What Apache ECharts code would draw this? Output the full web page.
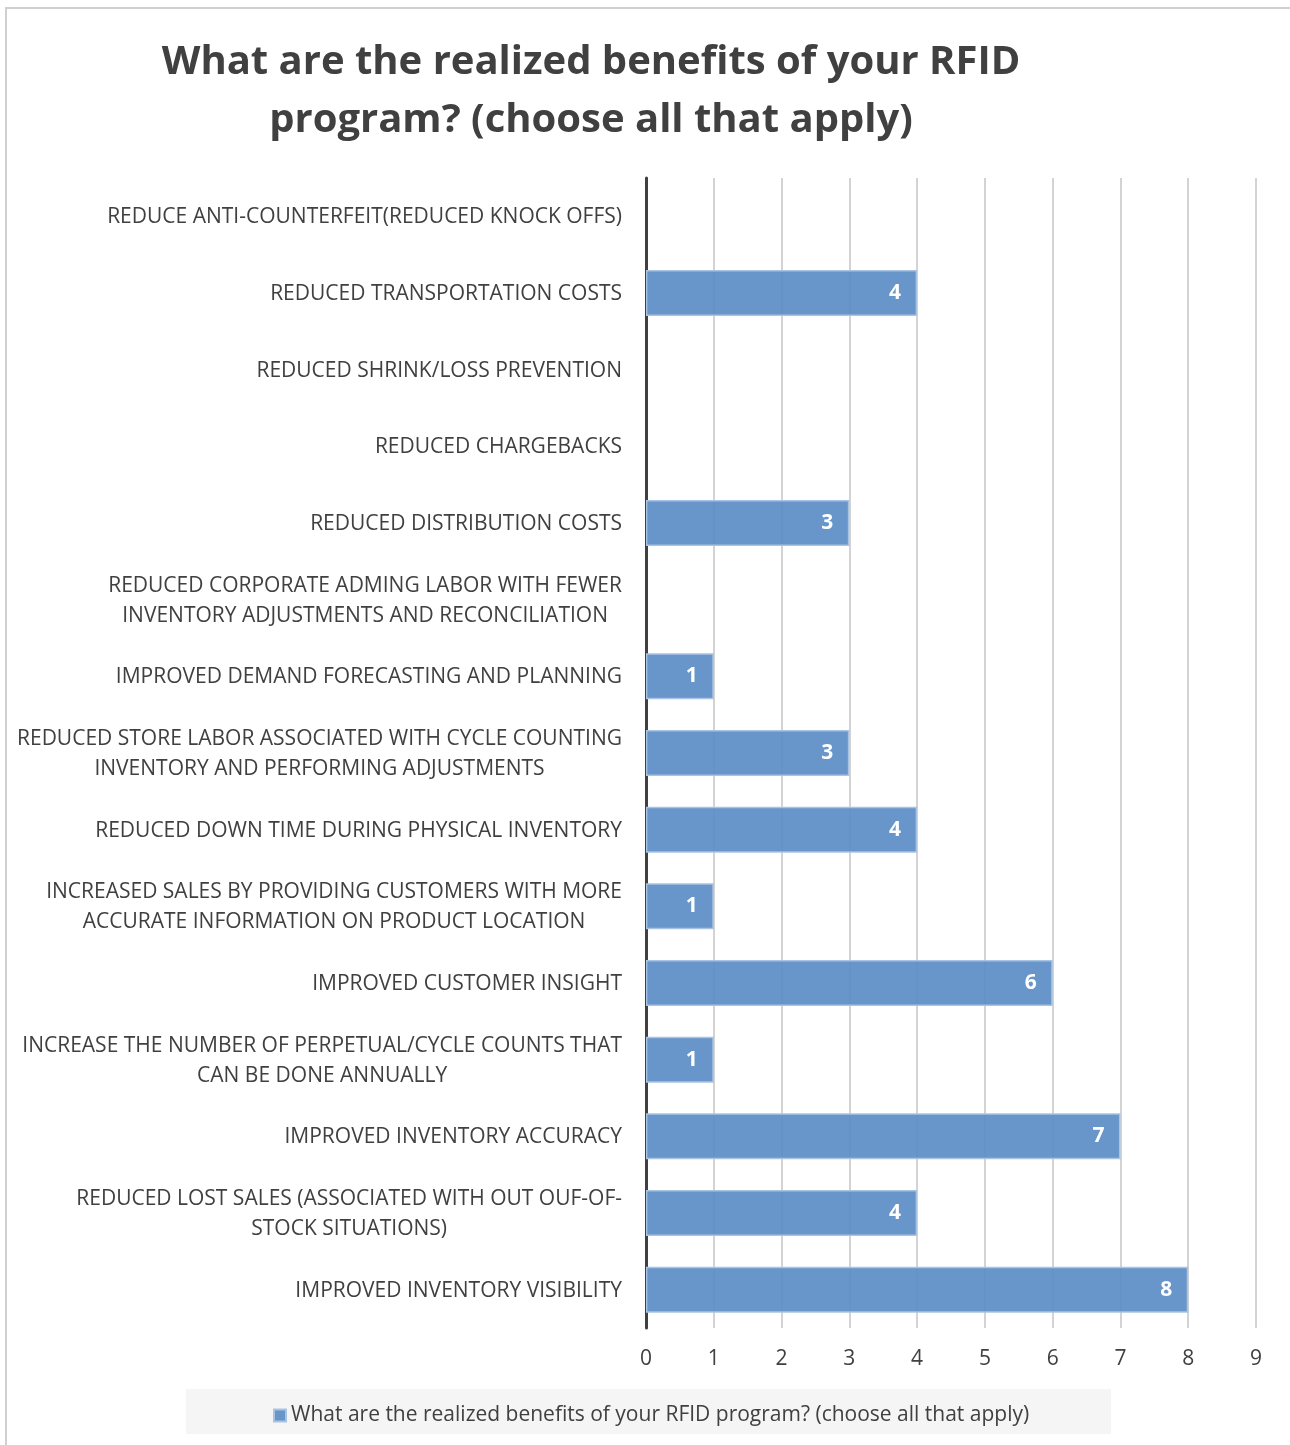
<!DOCTYPE html>
<html>
<head>
<meta charset="utf-8">
<script src="https://cdn.jsdelivr.net/npm/echarts@6/dist/echarts.min.js"></script>
<style>
  html, body { margin: 0; padding: 0; background: #fff; }
  #frame { position: absolute; left: 5px; top: 7px; width: 1290px; height: 1440px; border: 2px solid #d0d0d0; box-sizing: border-box; }
  #chart { position: absolute; left: 0; top: 0; width: 1290px; height: 1445px; }
</style>
</head>
<body>
<div id="frame"></div>
<div id="chart"></div>
<script>
// Benefit categories, listed top to bottom
const categories = [
  'REDUCE ANTI-COUNTERFEIT(REDUCED KNOCK OFFS)',
  'REDUCED TRANSPORTATION COSTS',
  'REDUCED SHRINK/LOSS PREVENTION',
  'REDUCED CHARGEBACKS',
  'REDUCED DISTRIBUTION COSTS',
  'REDUCED CORPORATE ADMING LABOR WITH FEWER\nINVENTORY ADJUSTMENTS AND RECONCILIATION',
  'IMPROVED DEMAND FORECASTING AND PLANNING',
  'REDUCED STORE LABOR ASSOCIATED WITH CYCLE COUNTING\nINVENTORY AND PERFORMING ADJUSTMENTS',
  'REDUCED DOWN TIME DURING PHYSICAL INVENTORY',
  'INCREASED SALES BY PROVIDING CUSTOMERS WITH MORE\nACCURATE INFORMATION ON PRODUCT LOCATION',
  'IMPROVED CUSTOMER INSIGHT',
  'INCREASE THE NUMBER OF PERPETUAL/CYCLE COUNTS THAT\nCAN BE DONE ANNUALLY',
  'IMPROVED INVENTORY ACCURACY',
  'REDUCED LOST SALES (ASSOCIATED WITH OUT OUF-OF-\nSTOCK SITUATIONS)',
  'IMPROVED INVENTORY VISIBILITY'
];

// Number of respondents per benefit
const responses = [0, 4, 0, 0, 3, 0, 1, 3, 4, 1, 6, 1, 7, 4, 8];

const seriesName = 'What are the realized benefits of your RFID program? (choose all that apply)';
const titleText = 'What are the realized benefits of your RFID\nprogram? (choose all that apply)';

const FONT = '"Open Sans", sans-serif';
const TEXT = '#404040';

// Empty categories get no outline so nothing shows at the axis
const barData = responses.map(v => (v > 0 ? v : { value: v, itemStyle: { borderWidth: 0, opacity: 0 } }));

const chart = echarts.init(document.getElementById('chart'));
chart.setOption({
  animation: false,
  textStyle: { fontFamily: FONT },
  title: {
    text: titleText,
    left: 586,
    top: 29,
    textAlign: 'center',
    textStyle: {
      fontFamily: FONT,
      fontSize: 40,
      fontWeight: 'bold',
      color: TEXT,
      lineHeight: 58,
      align: 'center'
    }
  },
  graphic: [{
    type: 'rect',
    shape: { x: 186, y: 1389, width: 925, height: 45 },
    style: { fill: '#f5f5f5' },
    z: -1
  }],
  legend: {
    data: [seriesName],
    left: 268,
    top: 1400,
    icon: 'rect',
    itemWidth: 12,
    itemHeight: 12,
    itemGap: 6,
    textStyle: { fontFamily: FONT, fontSize: 21, color: TEXT }
  },
  grid: {
    left: 646,
    right: 34,
    top: 178,
    bottom: 117,
    containLabel: false
  },
  xAxis: {
    type: 'value',
    min: 0,
    max: 9,
    interval: 1,
    axisLine: { show: false },
    axisTick: { show: false },
    axisLabel: { fontFamily: FONT, fontSize: 21, color: TEXT, margin: 21 },
    splitLine: { show: true, lineStyle: { color: '#c4c4c4', width: 1.5 } }
  },
  yAxis: {
    type: 'category',
    data: categories,
    inverse: true,
    axisLine: { show: true, lineStyle: { color: '#404040', width: 3 } },
    axisTick: { show: false },
    axisLabel: {
      margin: 24,
      align: 'right',
      // each line is centred within the right-aligned block
      formatter: v => v.split('\n').map(s => '{c|' + s + '}').join('\n'),
      rich: {
        c: {
          align: 'center',
          fontFamily: FONT,
          fontSize: 21,
          color: TEXT,
          lineHeight: 30,
          padding: [2, 0, 0, 0]
        }
      }
    },
    splitLine: { show: false }
  },
  series: [{
    name: seriesName,
    type: 'bar',
    data: barData,
    barWidth: '60%',
    itemStyle: {
      color: 'rgba(91,140,197,0.92)',
      borderColor: '#a9c3e3',
      borderWidth: 1.5
    },
    label: {
      show: true,
      position: 'insideRight',
      distance: 16,
      color: '#ffffff',
      fontFamily: FONT,
      fontSize: 21,
      fontWeight: 'bold',
      formatter: p => (p.value > 0 ? String(p.value) : '')
    }
  }]
});
</script>
</body>
</html>
